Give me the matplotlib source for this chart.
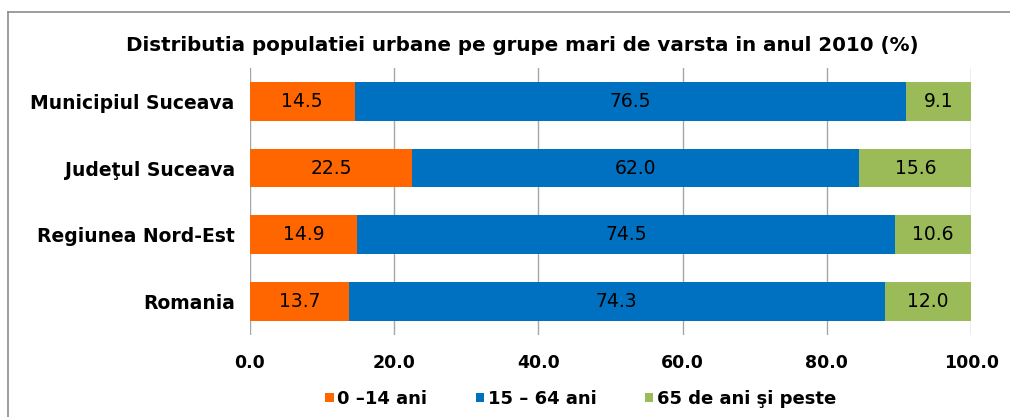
import numpy as np
import matplotlib.pyplot as plt
from matplotlib.lines import Line2D

plt.rcParams['font.family'] = ['DejaVu Sans']

regions = ["Municipiul Suceava", "Judeţul Suceava", "Regiunea Nord-Est", "Romania"]
age_0_14 = [14.5, 22.5, 14.9, 13.7]
age_15_64 = [76.5, 62.0, 74.5, 74.3]
age_65 = [9.1, 15.6, 10.6, 12.0]
series_names = ["0 –14 ani", "15 – 64 ani", "65 de ani şi peste"]
colors = ["#FF6600", "#0070C0", "#9BBB59"]

fig = plt.figure(figsize=(10.1, 4.17), dpi=100)
ax = fig.add_axes([0.2475, 0.197, 0.714, 0.640])

y = np.arange(len(regions))
left = np.zeros(len(regions))
for vals, name, c in zip([age_0_14, age_15_64, age_65], series_names, colors):
    bars = ax.barh(y, vals, left=left, height=0.58, color=c, label=name, zorder=3)
    for b, v in zip(bars, vals):
        ax.text(b.get_x() + b.get_width() / 2, b.get_y() + b.get_height() / 2, f"{v:.1f}",
                ha="center", va="center", fontsize=13.5, color="black", zorder=4)
    left += np.array(vals)

ax.set_ylim(len(regions) - 0.5, -0.5)
ax.set_xlim(0, 100)
ax.set_yticks(y)
ax.set_yticklabels(regions, fontsize=13.5, fontweight="bold")
ax.set_xticks(np.arange(0, 101, 20))
ax.set_xticklabels([f"{t:.1f}" for t in np.arange(0, 101, 20)], fontsize=12.5, fontweight="bold")
ax.tick_params(axis="x", length=0, pad=14)
ax.tick_params(axis="y", length=0, pad=11)
ax.grid(axis="x", color="#A6A6A6", linewidth=1, zorder=0)
for s in ax.spines.values():
    s.set_visible(False)

fig.text(0.517, 0.892, "Distributia populatiei urbane pe grupe mari de varsta in anul 2010 (%)",
         ha="center", va="center", fontsize=14.3, fontweight="bold")

leg = fig.legend(loc="center", bbox_to_anchor=(0.575, 0.043), ncol=3, frameon=False,
                 handlelength=0.45, handleheight=0.45, handletextpad=0.2,
                 columnspacing=2.7, prop={"weight": "bold", "size": 13})

# outer chart frame
fig.add_artist(Line2D([8 / 1010, 1.0], [1 - 12 / 417, 1 - 12 / 417], color="#8C8C8C", linewidth=1.2))
fig.add_artist(Line2D([8 / 1010, 8 / 1010], [0.0, 1 - 12 / 417], color="#8C8C8C", linewidth=1.2))

fig.savefig("out.png", dpi=100)
